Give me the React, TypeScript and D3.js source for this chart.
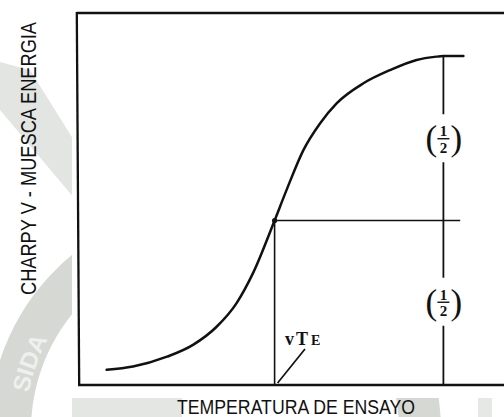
import React, { useLayoutEffect, useRef, useState } from "react";
import * as d3 from "d3";

// Charpy V-notch energy transition curve (normalised units)
const temperature = [6.9, 13.5, 22, 28.5, 34.4, 39.4, 43.5, 48.9, 51.9, 56.1, 60.25, 64.4, 71.1, 77.75, 84.4, 89.4, 91.1, 96.1];
const energy = [4.6, 5.6, 8.6, 12.2, 17.7, 24.9, 34, 50, 59.3, 71.4, 79.5, 85.6, 91.7, 95.7, 98.8, 99.8, 100, 100];

const upperShelf = 100;
const halfEnergy = upperShelf / 2;
const transitionTemp = 48.9; // vTE
const dimensionTemp = 91.1;
const midLineEnd = 95.3;

const xTitle = "TEMPERATURA DE ENSAYO";
const yTitle = "CHARPY V -  MUESCA ENERGIA";
const halfLabel = ["1", "2"];

const W = 504;
const H = 417;

// condensed titles: the glyphs are squeezed horizontally to a fixed run length
const X_TITLE_LEN = 238;
const Y_TITLE_LEN = 273;

export default function App() {
  const x = d3.scaleLinear().domain([0, 106.25]).range([79, 504]);
  const y = d3.scaleLinear().domain([0, 113]).range([385, 13.2]);

  const xTitleRef = useRef<SVGTextElement>(null);
  const yTitleRef = useRef<SVGTextElement>(null);
  const [sx, setSx] = useState(0.8);
  const [sy, setSy] = useState(0.8);

  useLayoutEffect(() => {
    if (xTitleRef.current) {
      const len = xTitleRef.current.getComputedTextLength();
      if (len > 0) setSx(X_TITLE_LEN / len);
    }
    if (yTitleRef.current) {
      const len = yTitleRef.current.getComputedTextLength();
      if (len > 0) setSy(Y_TITLE_LEN / len);
    }
  }, []);

  const pts: [number, number][] = temperature.map((t, i) => [t, energy[i]]);
  const line = d3
    .line<[number, number]>()
    .x((d) => x(d[0]))
    .y((d) => y(d[1]))
    .curve(d3.curveMonotoneX);

  const xv = x(transitionTemp);
  const yMid = y(halfEnergy);
  const xd = x(dimensionTemp);
  const yTop = y(upperShelf);
  const y0 = y(0);

  // centres of the two "(1/2)" markers
  const c1 = (yTop + yMid) / 2 + 1;
  const c2 = (yMid + y0) / 2;

  const frac = (cy: number, key: string) => (
    <g key={key} fontFamily="'Liberation Serif', 'DejaVu Serif', serif" fill="#111">
      <text x={xd - 12} y={cy + 11} fontSize={35} textAnchor="middle">(</text>
      <text x={xd + 13} y={cy + 11} fontSize={35} textAnchor="middle">)</text>
      <text x={xd} y={cy - 3} fontSize={15} fontWeight="bold" textAnchor="middle">{halfLabel[0]}</text>
      <line x1={xd - 6} x2={xd + 6} y1={cy - 0.5} y2={cy - 0.5} stroke="#111" strokeWidth={1.4} />
      <text x={xd} y={cy + 13.5} fontSize={15} fontWeight="bold" textAnchor="middle">{halfLabel[1]}</text>
    </g>
  );

  // baseline arc for the seal lettering (centre 215,430, r 190)
  const ringPath = "M 28.3 395 A 190 190 0 0 1 140 255";

  return (
    <svg width={W} height={H} style={{ position: "absolute", left: 0, top: 0, display: "block" }}>
      <rect x={0} y={0} width={W} height={H} fill="#ffffff" />

      {/* faint seal in the background */}
      <g>
        <path d="M 0 62 L 30 70 L 80 150 L 80 205 L 0 110 Z" fill="#e2e5e1" />
        <circle cx={215} cy={430} r={205} fill="none" stroke="#d5d8d3" strokeWidth={42} />
        <defs>
          <path id="sealArc" d={ringPath} />
        </defs>
        <text fontFamily="'Liberation Sans', Arial, sans-serif" fontWeight="bold" fontSize={24} fill="#eef0ec">
          <textPath href="#sealArc" startOffset="2">SIDA</textPath>
        </text>
        <rect x={72} y={398} width={110} height={19} fill="#e3e6e2" />
        <rect x={478} y={398} width={14} height={19} fill="#e6e8e5" />
      </g>

      {/* scanned figure area */}
      <rect x={72} y={0} width={W - 72} height={398} fill="#ffffff" />

      {/* frame */}
      <g stroke="#111" strokeWidth={2.3} fill="none">
        <line x1={76.8} y1={13} x2={504} y2={13} />
        <line x1={76.8} y1={12} x2={79.2} y2={386} />
        <line x1={78} y1={385} x2={504} y2={385} />
      </g>

      {/* transition curve */}
      <path d={line(pts) ?? ""} fill="none" stroke="#111" strokeWidth={2.5} strokeLinecap="round" />

      {/* half-energy construction */}
      <g stroke="#111" fill="none">
        <line x1={xv} y1={yMid} x2={x(midLineEnd)} y2={yMid} strokeWidth={1.4} />
        <line x1={xv} y1={yMid} x2={xv} y2={y0} strokeWidth={1.6} />
        <line x1={xd} y1={yTop} x2={xd} y2={c1 - 25} strokeWidth={1.8} />
        <line x1={xd} y1={c1 + 23} x2={xd} y2={c2 - 25} strokeWidth={1.8} />
        <line x1={xd} y1={c2 + 23} x2={xd} y2={y0} strokeWidth={1.8} />
        <line x1={x(transitionTemp + 7.6)} y1={349} x2={xv + 3} y2={y0 - 2} strokeWidth={1.7} />
      </g>
      <circle cx={xv} cy={yMid} r={2.6} fill="#111" />

      {frac(c1, "upper")}
      {frac(c2, "lower")}

      <text x={285} y={345} fontFamily="'Liberation Serif', 'DejaVu Serif', serif" fontWeight="bold" fill="#111" fontSize={18}>
        v<tspan dx={2}>T</tspan><tspan fontSize={14} dx={3}>E</tspan>
      </text>

      {/* axis titles */}
      <g transform={`translate(296,414) scale(${sx},1)`}>
        <text
          ref={xTitleRef}
          x={0}
          y={0}
          textAnchor="middle"
          fontFamily="'Liberation Sans', Arial, sans-serif"
          fontSize={21}
          fill="#111"
        >
          {xTitle}
        </text>
      </g>
      <g transform={`translate(35.5,158.5) rotate(-90) scale(${sy},1)`}>
        <text
          ref={yTitleRef}
          x={0}
          y={0}
          textAnchor="middle"
          fontFamily="'Liberation Sans', Arial, sans-serif"
          fontSize={21.5}
          fill="#111"
        >
          {yTitle}
        </text>
      </g>
    </svg>
  );
}
